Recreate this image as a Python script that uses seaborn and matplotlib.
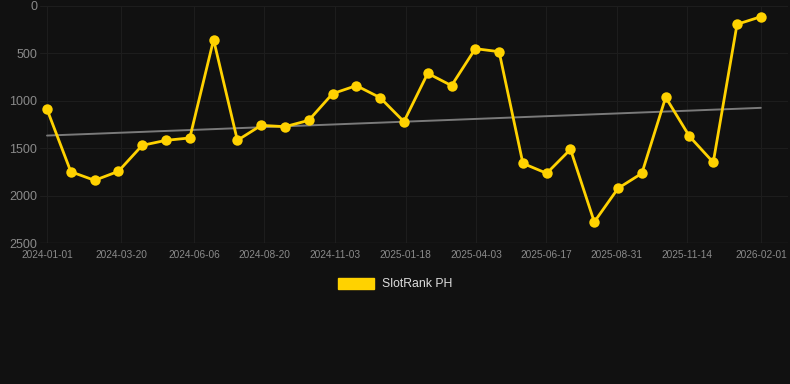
import numpy as np
import pandas as pd
import seaborn as sns
import matplotlib
matplotlib.use('Agg')
import matplotlib.pyplot as plt
from matplotlib.patches import Patch

# data (rank, lower is better)
start_date = '2024-01-01'
end_date = '2026-02-01'
ranks = [1090, 1748, 1839, 1744, 1470, 1417, 1392, 355, 1417, 1259,
         1273, 1206, 925, 840, 967, 1220, 710, 840, 450, 482,
         1660, 1765, 1512, 2278, 1923, 1765, 963, 1375, 1649, 193, 113]
tick_labels = ['2024-01-01', '2024-03-20', '2024-06-06', '2024-08-20', '2024-11-03',
               '2025-01-18', '2025-04-03', '2025-06-17', '2025-08-31', '2025-11-14',
               '2026-02-01']
series_name = 'SlotRank PH'

dates = pd.date_range(start_date, end_date, periods=len(ranks))
df = pd.DataFrame({'date': dates, 'rank': ranks})

# linear trend
xnum = (df['date'] - df['date'].iloc[0]).dt.days.values
coef = np.polyfit(xnum, df['rank'], 1)
df['trend'] = np.polyval(coef, xnum)

bg = '#111111'
sns.set_style('dark', rc={'axes.facecolor': bg, 'figure.facecolor': bg,
                          'grid.color': '#1d1d1d', 'axes.grid': True})
plt.rcParams['font.family'] = ['Liberation Sans', 'DejaVu Sans']

fig = plt.figure(figsize=(7.9, 3.84), dpi=100)
ax = fig.add_axes([40 / 790, 1 - 243 / 384, 748 / 790, 237 / 384])

sns.lineplot(data=df, x='date', y='trend', ax=ax, color='#7a7a7a', linewidth=1.4)
sns.lineplot(data=df, x='date', y='rank', ax=ax, color='#ffd200', linewidth=2.0,
             marker='o', markersize=7.5, markeredgewidth=0)

ax.set_ylim(2500, 0)
ax.set_yticks([0, 500, 1000, 1500, 2000, 2500])
ax.set_xlim(dates[0] - pd.Timedelta(days=7.5), dates[-1] + pd.Timedelta(days=29))
ax.set_xticks(pd.to_datetime(tick_labels))
ax.set_xticklabels(tick_labels)
ax.tick_params(axis='y', colors='#8a8a8a', labelsize=9, length=0, pad=2)
ax.tick_params(axis='x', colors='#8a8a8a', labelsize=7.3, length=0, pad=5)
ax.set_xlabel('')
ax.set_ylabel('')
for s in ax.spines.values():
    s.set_visible(False)
ax.axhline(2500, color='#2a2a2a', linewidth=1)

handle = Patch(facecolor='#ffd200', edgecolor='#ffd200')
fig.legend([handle], [series_name], loc='center', bbox_to_anchor=(0.5, 1 - 284 / 384),
           frameon=False, labelcolor='#dddddd', fontsize=8.8,
           handlelength=3.0, handleheight=1.0, handletextpad=0.6)

plt.savefig('out.png', dpi=100, facecolor=bg)
